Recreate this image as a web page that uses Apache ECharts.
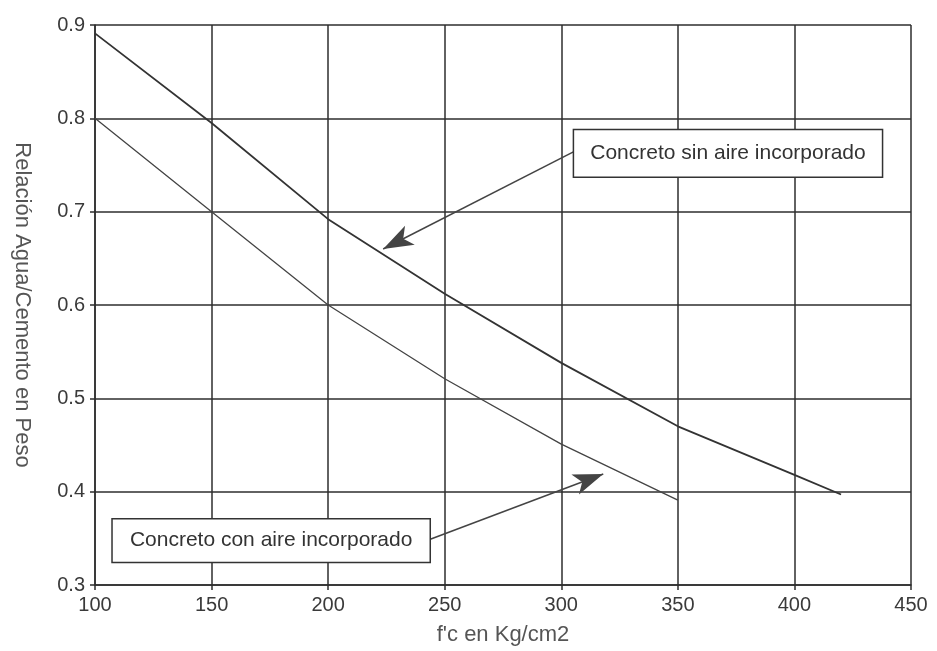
<!DOCTYPE html>
<html><head><meta charset="utf-8">
<script src="https://cdn.jsdelivr.net/npm/echarts@6/dist/echarts.min.js"></script>
<style>html,body{margin:0;padding:0;background:#fff}#c{width:937px;height:651px}</style>
</head><body><div id="c"></div>
<script>
// Data
const fcSin = [100,150,200,250,300,350,400,420];
const wcSin = [0.891,0.795,0.692,0.612,0.538,0.470,0.418,0.397];
const fcCon = [100,150,200,250,300,350];
const wcCon = [0.800,0.700,0.600,0.521,0.451,0.391];
const xTicks = [100,150,200,250,300,350,400,450];
const yTicks = [0.3,0.4,0.5,0.6,0.7,0.8,0.9];
const labelSin = 'Concreto sin aire incorporado';
const labelCon = 'Concreto con aire incorporado';
// annotation anchors in data units
const arrowSin = [[305.2,0.764],[223.6,0.660]];
const arrowCon = [[243.8,0.349],[318.0,0.419]];
const boxSin = [[305.2,0.788],[437.8,0.737]];
const boxCon = [[107.3,0.371],[243.8,0.324]];

const font = '"Liberation Sans", Arial, Helvetica, sans-serif';
const chart = echarts.init(document.getElementById('c'));
const ink = '#2e2e2e';
chart.setOption({
  animation:false,
  backgroundColor:'#fff',
  grid:{left:95,right:26,top:25,bottom:65,show:false},
  xAxis:{type:'value',min:xTicks[0],max:xTicks[xTicks.length-1],interval:50,
    name:"f'c en Kg/cm2",nameLocation:'middle',nameGap:39,
    nameTextStyle:{fontFamily:font,fontSize:22,color:'#555'},
    axisLine:{show:true,lineStyle:{color:ink,width:1.5}},
    axisTick:{show:true,inside:false,length:5,lineStyle:{color:ink,width:1.5}},
    axisLabel:{fontFamily:font,fontSize:20,color:'#3a3a3a',margin:10},
    splitLine:{show:true,lineStyle:{color:ink,width:1.5}}},
  yAxis:{type:'value',min:yTicks[0],max:yTicks[yTicks.length-1],interval:0.1,
    name:'Relación Agua/Cemento en Peso',nameLocation:'middle',nameGap:62,nameRotate:-90,
    nameTextStyle:{fontFamily:font,fontSize:22,color:'#555'},
    axisLine:{show:true,lineStyle:{color:ink,width:1.5}},
    axisTick:{show:true,length:5,lineStyle:{color:ink,width:1.5}},
    axisLabel:{fontFamily:font,fontSize:20,color:'#3a3a3a',margin:10,formatter:v=>v.toFixed(1)},
    splitLine:{show:true,lineStyle:{color:ink,width:1.5}}},
  series:[
    {type:'line',name:labelSin,data:fcSin.map((x,i)=>[x,wcSin[i]]),showSymbol:false,symbol:'none',
      lineStyle:{color:'#333',width:1.8},
      markLine:{silent:true,symbol:['none','arrow'],symbolSize:[16,30],
        label:{show:false},lineStyle:{color:'#444',width:1.5,type:'solid'},
        itemStyle:{color:'#555'},
        data:[[{coord:arrowSin[0]},{coord:arrowSin[1]}],[{coord:arrowCon[0]},{coord:arrowCon[1]}]]}},
    {type:'line',name:labelCon,data:fcCon.map((x,i)=>[x,wcCon[i]]),showSymbol:false,symbol:'none',
      lineStyle:{color:'#444',width:1.3}}
  ]
});
function box(b,text){
  const p1 = chart.convertToPixel({gridIndex:0},b[0]);
  const p2 = chart.convertToPixel({gridIndex:0},b[1]);
  return {type:'group',children:[
    {type:'rect',shape:{x:p1[0],y:p1[1],width:p2[0]-p1[0],height:p2[1]-p1[1]},
      style:{fill:'#fff',stroke:'#333',lineWidth:1.5},z:100},
    {type:'text',x:(p1[0]+p2[0])/2,y:(p1[1]+p2[1])/2,z:101,
      style:{text:text,fontFamily:font,fontSize:21,fill:'#333',align:'center',verticalAlign:'middle'}}
  ]};
}
chart.setOption({graphic:[box(boxSin,labelSin),box(boxCon,labelCon)]});
</script></body></html>
